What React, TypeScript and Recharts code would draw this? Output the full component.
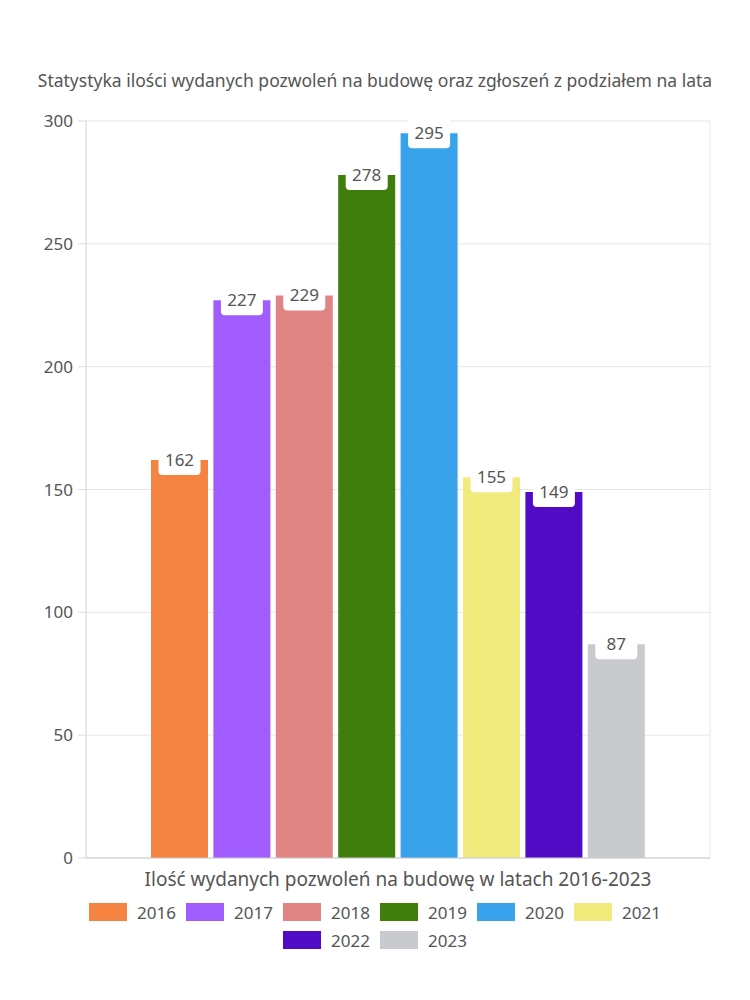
import { BarChart, Bar, XAxis, YAxis, CartesianGrid, Legend, LabelList } from "recharts";

const years = ["2016", "2017", "2018", "2019", "2020", "2021", "2022", "2023"];
const permits = [162, 227, 229, 278, 295, 155, 149, 87];
const colors = ["#F58442", "#A05CFF", "#E08484", "#3F7D0C", "#38A3EB", "#F0EB7C", "#520BC4", "#C9CACE"];
const yTicks = [0, 50, 100, 150, 200, 250, 300];

const title = "Statystyka ilości wydanych pozwoleń na budowę oraz zgłoszeń z podziałem na lata";
const xLabel = "Ilość wydanych pozwoleń na budowę w latach 2016-2023";

const FONT = "'Noto Sans', sans-serif";
const TEXT = "#555";

const row: Record<string, string | number> = { name: "" };
years.forEach((y, i) => {
  row["y" + y] = permits[i];
});
const data = [row];

function ValueLabel(props: any) {
  const { x, y, width, value } = props;
  const cx = x + width / 2;
  return (
    <g>
      <rect x={cx - 21} y={y - 15} width={42} height={30} rx={4} fill="#fff" />
      <text x={cx} y={y + 6} textAnchor="middle" fontSize={17} fill={TEXT} fontFamily={FONT}>
        {value}
      </text>
    </g>
  );
}

function LegendBox() {
  return (
    <div
      style={{
        display: "flex",
        flexWrap: "wrap",
        justifyContent: "center",
        columnGap: 10,
        width: 600,
        margin: "0 auto",
        fontFamily: FONT,
        fontSize: 17,
        color: TEXT,
      }}
    >
      {years.map((y, i) => (
        <div key={y} style={{ display: "flex", alignItems: "center", width: 87, height: 28 }}>
          <span style={{ display: "inline-block", width: 40, height: 18, background: colors[i], marginRight: 10 }} />
          <span>{y}</span>
        </div>
      ))}
    </div>
  );
}

export default function App() {
  return (
    <div style={{ position: "absolute", left: 0, top: 0, width: 750, height: 1000, background: "#fff" }}>
      <div
        style={{
          position: "absolute",
          top: 68,
          left: 0,
          width: 750,
          textAlign: "center",
          fontFamily: FONT,
          fontSize: 17.5,
          color: TEXT,
        }}
      >
        {title}
      </div>
      <BarChart
        width={750}
        height={1000}
        data={data}
        margin={{ top: 121, right: 40, left: 0, bottom: 112 }}
        barCategoryGap={65}
        barGap={5.4}
      >
        <CartesianGrid
          stroke="#e6e6e6"
          verticalCoordinatesGenerator={({ offset }: any) => [offset.left, offset.left + offset.width]}
        />
        <XAxis
          dataKey="name"
          tick={false}
          tickLine={false}
          axisLine={{ stroke: "#cccccc" }}
          height={30}
          label={{ value: xLabel, position: "insideBottom", offset: 2, fontSize: 19, fill: TEXT, fontFamily: FONT }}
        />
        <YAxis
          width={86}
          domain={[0, 300]}
          ticks={yTicks}
          tickSize={8}
          tickMargin={5}
          tickLine={{ stroke: "#dddddd" }}
          axisLine={{ stroke: "#dddddd" }}
          tick={{ fontSize: 17, fill: TEXT, fontFamily: FONT }}
        />
        <Legend
          layout="horizontal"
          verticalAlign="middle"
          content={() => <LegendBox />}
          wrapperStyle={{ position: "absolute", top: 898, left: 0, width: 750 }}
        />
        {years.map((y, i) => (
          <Bar key={y} dataKey={"y" + y} name={y} fill={colors[i]} isAnimationActive={false}>
            <LabelList dataKey={"y" + y} content={<ValueLabel />} />
          </Bar>
        ))}
      </BarChart>
    </div>
  );
}
